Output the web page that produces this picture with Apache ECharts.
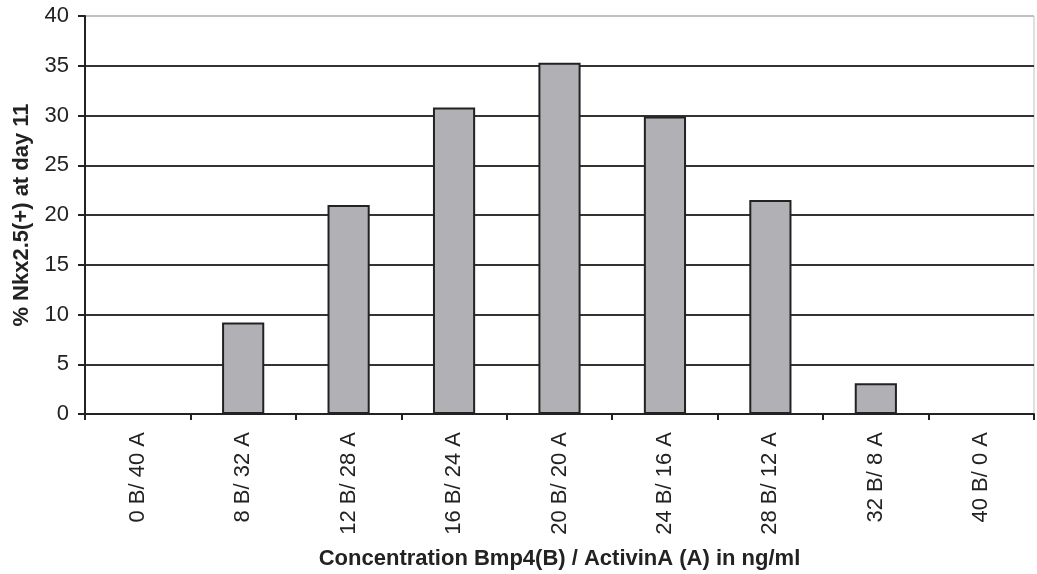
<!DOCTYPE html>
<html>
<head>
<meta charset="utf-8">
<script src="https://cdn.jsdelivr.net/npm/echarts@6/dist/echarts.min.js"></script>
<style>
html,body{margin:0;padding:0;background:#fff;}
#chart{width:1037px;height:574px;}
</style>
</head>
<body>
<div id="chart"></div>
<script>
const categories = ['0 B/ 40 A','8 B/ 32 A','12 B/ 28 A','16 B/ 24 A','20 B/ 20 A','24 B/ 16 A','28 B/ 12 A','32 B/ 8 A','40 B/ 0 A'];
const values = [0, 9.2, 21.0, 30.8, 35.3, 29.9, 21.5, 3.1, 0];
const yTitle = '% Nkx2.5(+) at day 11';
const xTitle = 'Concentration Bmp4(B) / ActivinA (A) in ng/ml';

const chart = echarts.init(document.getElementById('chart'), null, {renderer:'canvas'});
const font = 'Liberation Sans, Arial, sans-serif';
chart.setOption({
  animation:false,
  backgroundColor:'#fff',
  grid:{left:85, right:3, top:16, bottom:160, show:true, borderColor:'#c0c0c0', borderWidth:1, containLabel:false, outerBoundsMode:'none'},
  xAxis:{
    type:'category', data:categories,
    axisLine:{lineStyle:{color:'#222', width:2}},
    axisTick:{show:true, length:6, lineStyle:{color:'#222', width:2}},
    axisLabel:{rotate:90, margin:18, fontFamily:font, fontSize:22, color:'#222', interval:0},
    name:xTitle, nameLocation:'middle', nameGap:134,
    nameTextStyle:{fontFamily:font, fontSize:22, fontWeight:'bold', color:'#222'}
  },
  yAxis:{
    type:'value', min:0, max:40, interval:5,
    axisLine:{show:true, lineStyle:{color:'#222', width:2}},
    axisTick:{show:true, length:7, lineStyle:{color:'#222', width:2}},
    axisLabel:{margin:16, fontFamily:font, fontSize:22, color:'#222'},
    splitLine:{show:true, lineStyle:{color:['#333','#333','#333','#333','#333','#333','#333','#333','#c0c0c0'], width:2}},
    name:yTitle, nameLocation:'middle', nameGap:52, nameRotate:90,
    nameTextStyle:{fontFamily:font, fontSize:22, fontWeight:'bold', color:'#222'}
  },
  series:[{
    type:'bar', data:values, barWidth:'40%',
    itemStyle:{color:'#b1b1b5', borderColor:'#222', borderWidth:2}
  }]
});
</script>
</body>
</html>
